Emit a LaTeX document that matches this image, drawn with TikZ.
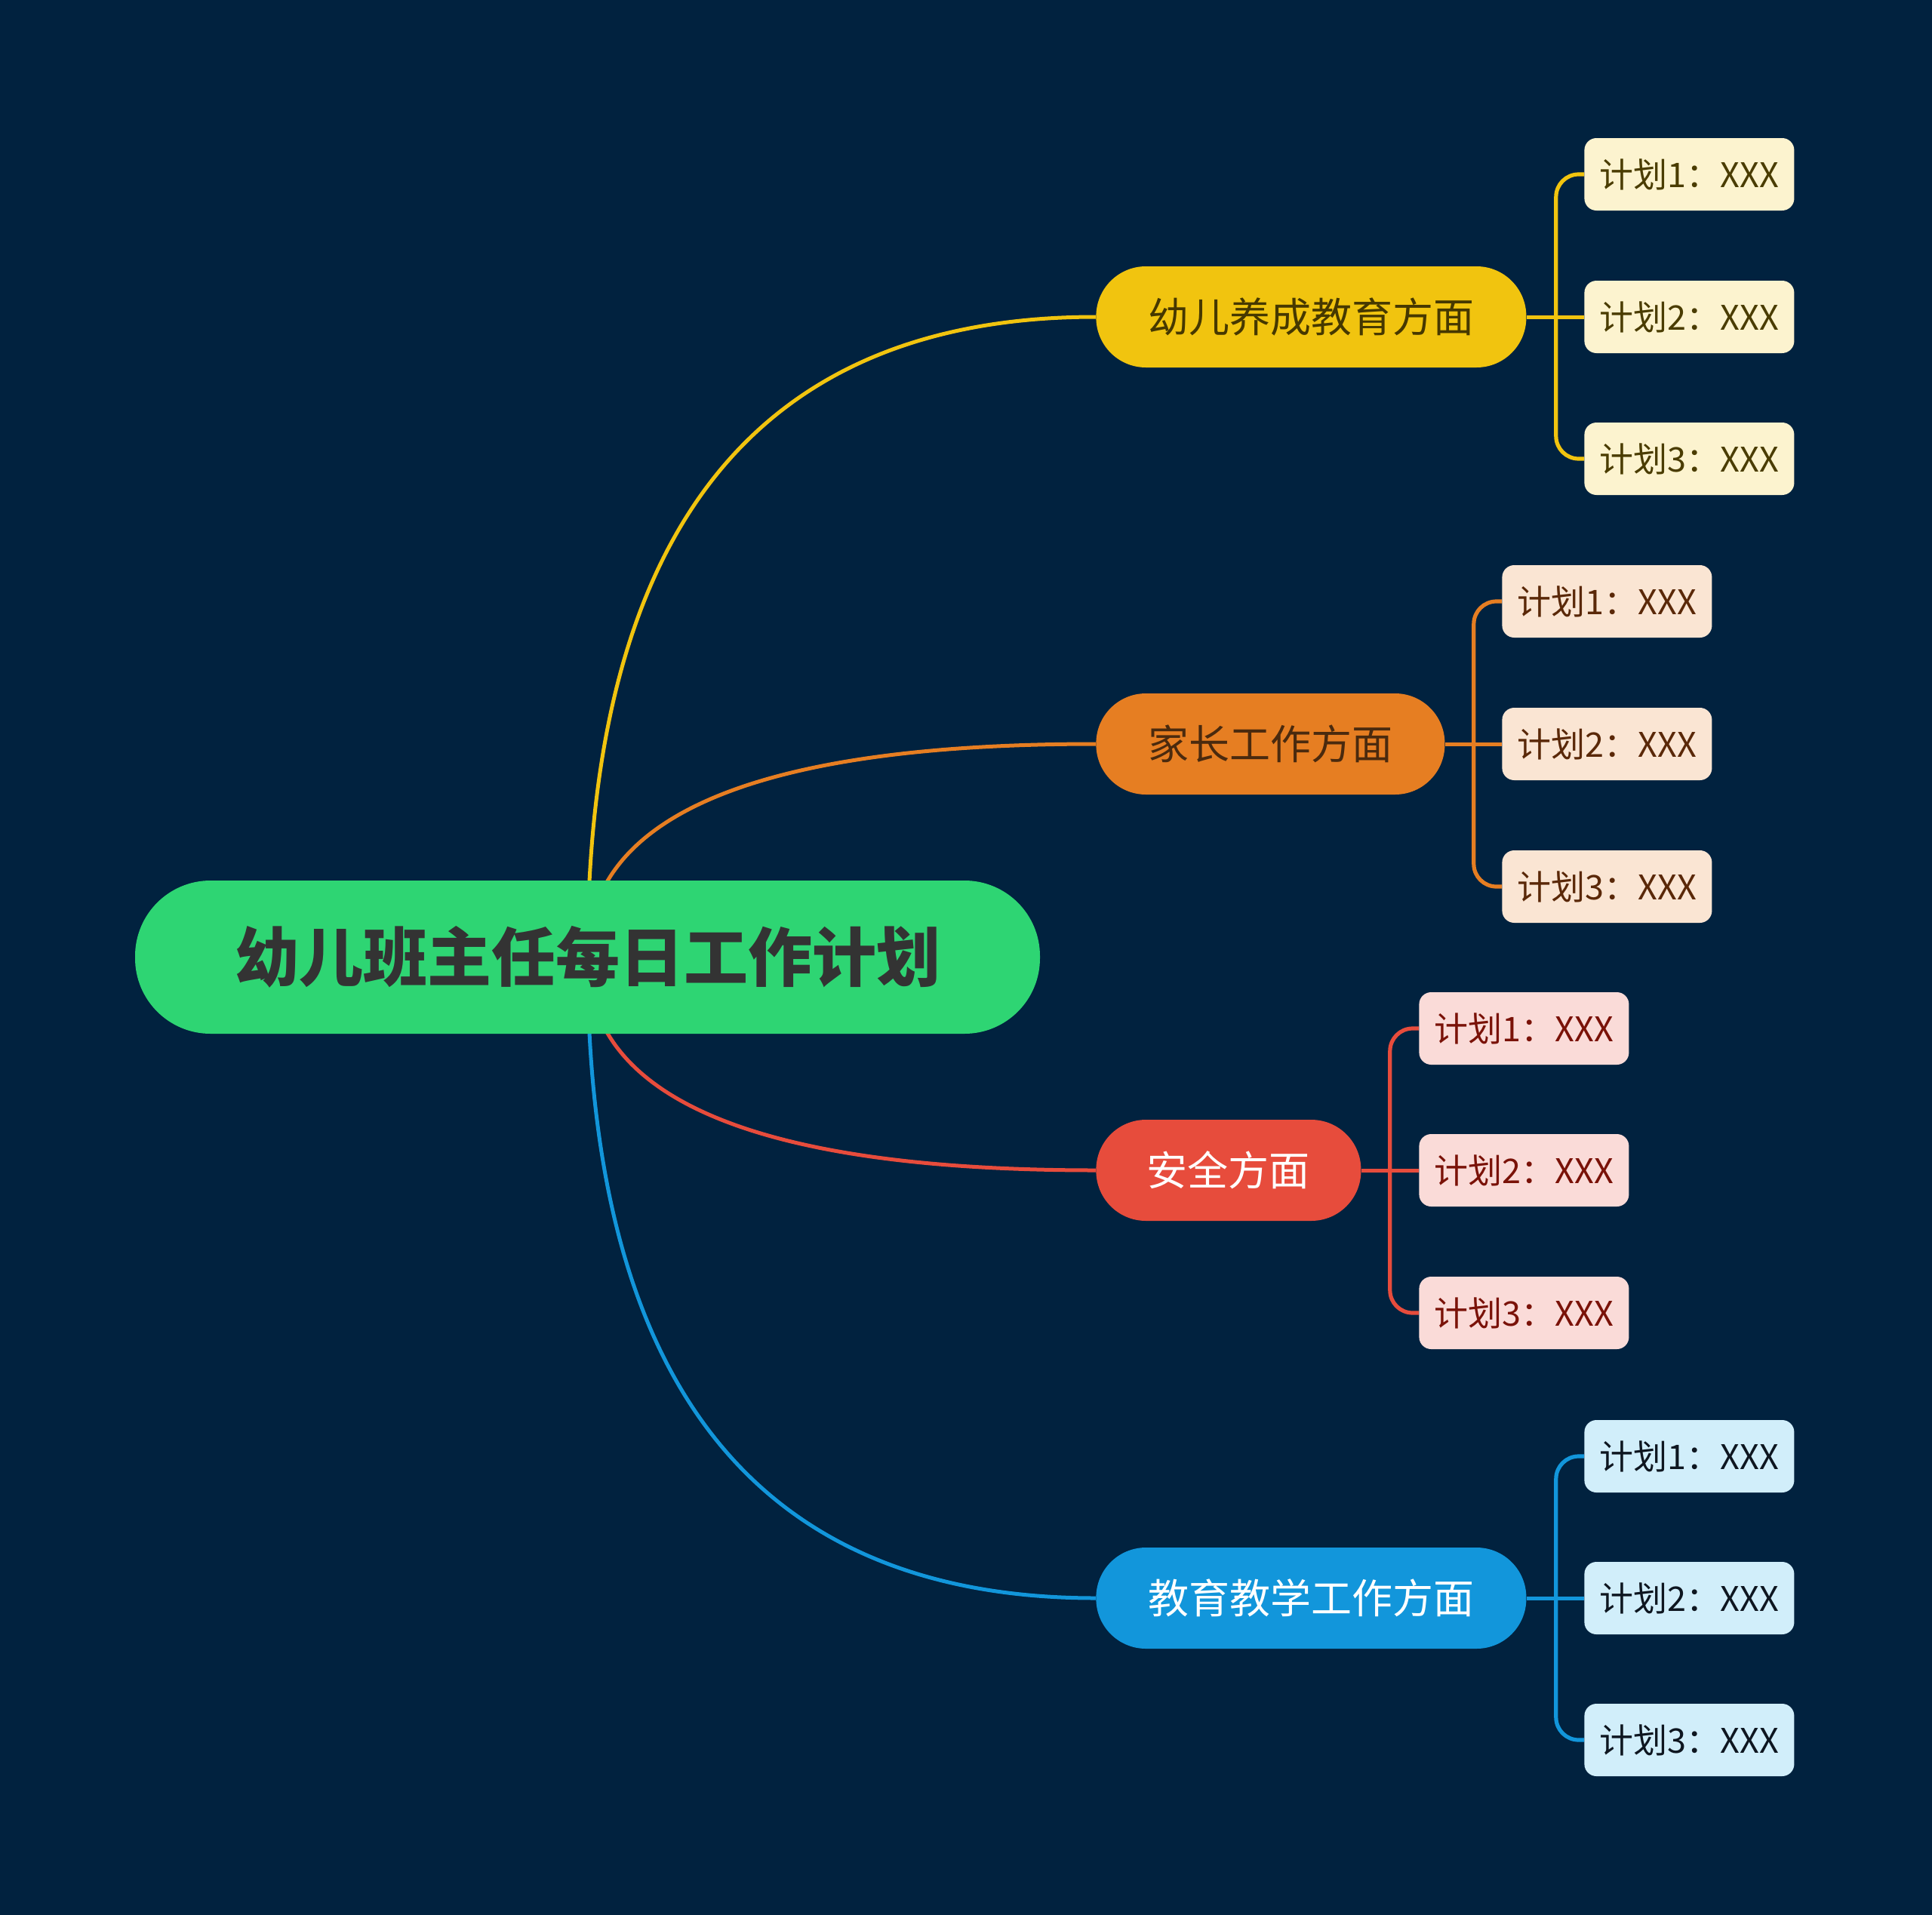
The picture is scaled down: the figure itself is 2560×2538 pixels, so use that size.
\documentclass[tikz,border=0pt]{standalone}
\usepackage{fontspec}
\newfontfamily\cjk{Noto Sans CJK SC}
\usetikzlibrary{calc}
\pgfdeclarelayer{bgzero}
\pgfdeclarelayer{bgone}
\pgfsetlayers{bgzero,bgone,main}
\definecolor{bgc}{HTML}{01223F}
\definecolor{rootc}{HTML}{2ED573}
\definecolor{yelc}{HTML}{F1C40F}
\definecolor{orac}{HTML}{E67E22}
\definecolor{redc}{HTML}{E74C3C}
\definecolor{bluc}{HTML}{1296DB}
\definecolor{yelleaf}{HTML}{FCF3CF}
\definecolor{oraleaf}{HTML}{FAE5D3}
\definecolor{redleaf}{HTML}{FADBD8}
\definecolor{bluleaf}{HTML}{D1EEFA}
\definecolor{yeltxt}{HTML}{463800}
\definecolor{oratxt}{HTML}{4A2A0E}
\definecolor{yelltxt}{HTML}{4A3C00}
\definecolor{oraltxt}{HTML}{5A2808}
\definecolor{redltxt}{HTML}{7A1208}
\definecolor{bluetxt}{HTML}{0E1620}
\definecolor{roottxt}{HTML}{333333}
\tikzset{
  rootbox/.style={fill=rootc, rounded corners=50pt, minimum width=599.5pt, minimum height=101.5pt,
    inner sep=0pt, text=roottxt, font=\cjk\bfseries\fontsize{42.5pt}{50pt}\selectfont},
  branchbox/.style={fill=#1, rounded corners=33pt, minimum height=67pt, inner sep=0pt,
    anchor=west, font=\cjk\fontsize{27pt}{32pt}\selectfont},
  leafbox/.style={fill=#1, rounded corners=8pt, minimum width=139pt, minimum height=48pt,
    inner sep=0pt, anchor=west, font=\cjk\fontsize{22.5pt}{27pt}\selectfont},
  mainline/.style={draw=#1, line width=2.5pt},
  leafline/.style={draw=#1, line width=2.6pt, rounded corners=15pt},
}
\begin{document}
\begin{tikzpicture}[x=0.5pt, y=-0.5pt]
\begin{pgfonlayer}{bgzero}
\fill[bgc] (0,0) rectangle (2560,2538);
\end{pgfonlayer}
\useasboundingbox (0,0) rectangle (2560,2538);

% root
\node[rootbox] (root) at (778.5,1268.5) {幼儿班主任每日工作计划};

% branches
\node[branchbox=yelc, text=yeltxt, minimum width=285pt] (b1) at (1452,420) {幼儿养成教育方面};
\node[branchbox=orac, text=oratxt, minimum width=231pt] (b2) at (1452,986) {家长工作方面};
\node[branchbox=redc, text=white, minimum width=175.5pt] (b3) at (1452,1551) {安全方面};
\node[branchbox=bluc, text=white, minimum width=285pt] (b4) at (1452,2118) {教育教学工作方面};

% leaves
\node[leafbox=yelleaf, text=yelltxt] (l11) at (2099,231) {计划1：XXX};
\node[leafbox=yelleaf, text=yelltxt] (l12) at (2099,420) {计划2：XXX};
\node[leafbox=yelleaf, text=yelltxt] (l13) at (2099,608) {计划3：XXX};
\node[leafbox=oraleaf, text=oraltxt] (l21) at (1990,797) {计划1：XXX};
\node[leafbox=oraleaf, text=oraltxt] (l22) at (1990,986) {计划2：XXX};
\node[leafbox=oraleaf, text=oraltxt] (l23) at (1990,1175) {计划3：XXX};
\node[leafbox=redleaf, text=redltxt] (l31) at (1880,1363) {计划1：XXX};
\node[leafbox=redleaf, text=redltxt] (l32) at (1880,1551) {计划2：XXX};
\node[leafbox=redleaf, text=redltxt] (l33) at (1880,1740) {计划3：XXX};
\node[leafbox=bluleaf, text=bluetxt] (l41) at (2099,1930) {计划1：XXX};
\node[leafbox=bluleaf, text=bluetxt] (l42) at (2099,2118) {计划2：XXX};
\node[leafbox=bluleaf, text=bluetxt] (l43) at (2099,2306) {计划3：XXX};

% junction coordinates
\coordinate (j1) at ($(b1.east)+(39,0)$);
\coordinate (j2) at ($(b2.east)+(38,0)$);
\coordinate (j3) at ($(b3.east)+(38,0)$);
\coordinate (j4) at ($(b4.east)+(39,0)$);

\begin{pgfonlayer}{bgone}
% root to branches (quadratic curves from root centre)
\foreach \b/\c in {b1/yelc, b2/orac, b3/redc, b4/bluc}{
  \draw[mainline=\c] (root.center)
    .. controls ($(root.center)!0.6667!(root.center|-\b.west)$)
    and ($(\b.west)!0.6667!(root.center|-\b.west)$) .. (\b.west);
}
% branches to leaves
\draw[mainline=yelc] (b1.east) -- (l12.west);
\draw[leafline=yelc] (j1) |- (l11.west);
\draw[leafline=yelc] (j1) |- (l13.west);
\draw[mainline=orac] (b2.east) -- (l22.west);
\draw[leafline=orac] (j2) |- (l21.west);
\draw[leafline=orac] (j2) |- (l23.west);
\draw[mainline=redc] (b3.east) -- (l32.west);
\draw[leafline=redc] (j3) |- (l31.west);
\draw[leafline=redc] (j3) |- (l33.west);
\draw[mainline=bluc] (b4.east) -- (l42.west);
\draw[leafline=bluc] (j4) |- (l41.west);
\draw[leafline=bluc] (j4) |- (l43.west);
\end{pgfonlayer}
\end{tikzpicture}
\end{document}
